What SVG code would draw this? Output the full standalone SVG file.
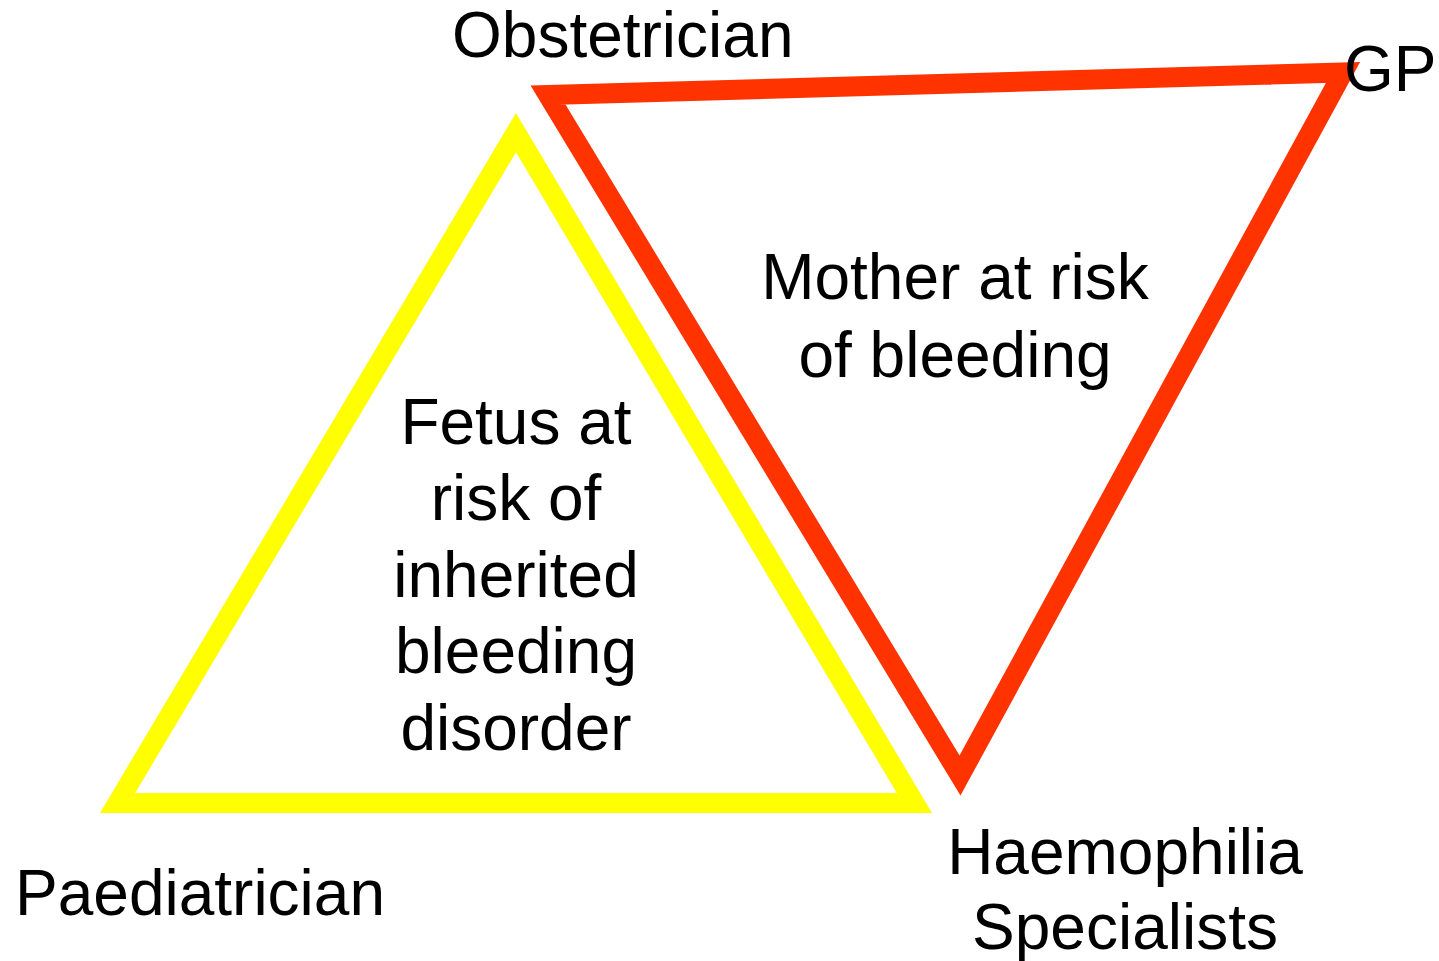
<svg xmlns="http://www.w3.org/2000/svg" width="1439" height="961" viewBox="0 0 1439 961">
<style>
.t{font-family:"Liberation Sans",Arial,sans-serif;font-size:64px;fill:#000}
.c{text-anchor:middle}
.tri{fill:none;stroke-width:20;stroke-linejoin:miter;stroke-miterlimit:10}
</style>
<rect width="1439" height="961" fill="#fff"/>
<g id="connectors">
<polygon id="fetus-triangle" class="tri" stroke="#ffff00" points="516,132.6 914.4,803 117.6,803"/>
<polygon id="mother-triangle" class="tri" stroke="#ff3300" points="548,95 1343,72.5 960,775.5"/>
</g>
<g id="obstetrician"><text class="t" x="452" y="57">Obstetrician</text></g>
<g id="gp"><text class="t" x="1344" y="91">GP</text></g>
<g id="paediatrician"><text class="t" x="15" y="915">Paediatrician</text></g>
<g id="haemophilia"><text class="t c" x="1125" y="874">Haemophilia</text><text class="t c" x="1125" y="949">Specialists</text></g>
<g id="mother"><text class="t c" x="955" y="299">Mother at risk</text><text class="t c" x="955" y="377">of bleeding</text></g>
<g id="fetus">
<text class="t c" x="516" y="444">Fetus at</text>
<text class="t c" x="516" y="520">risk of</text>
<text class="t c" x="516" y="597">inherited</text>
<text class="t c" x="516" y="673">bleeding</text>
<text class="t c" x="516" y="750">disorder</text>
</g>
</svg>
